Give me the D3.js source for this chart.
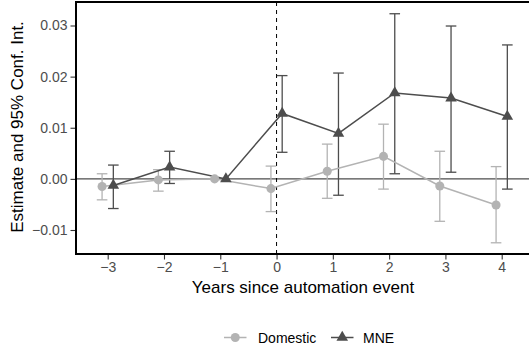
<!DOCTYPE html>
<html>
<head>
<meta charset="utf-8">
<script src="https://cdn.jsdelivr.net/npm/d3@7"></script>
<style>
  body { margin: 0; background: #fff; }
  svg { display: block; font-family: "Liberation Sans", Arial, sans-serif; }
</style>
</head>
<body>
<div id="chart"></div>
<script>
var years = [-3, -2, -1, 0, 1, 2, 3, 4];
var groups = ["Domestic", "MNE"];

var domEst = [-0.0015, -0.0002, 0, -0.0019, 0.0015, 0.0044, -0.0014, -0.0051];
var domLo  = [-0.0041, -0.0024, 0, -0.0064, -0.0038, -0.0020, -0.0083, -0.0125];
var domHi  = [0.0010, 0.0018, 0, 0.0025, 0.0068, 0.0107, 0.0054, 0.0024];

var mneEst = [-0.0013, 0.0023, 0, 0.0128, 0.0089, 0.0168, 0.0158, 0.0122];
var mneLo  = [-0.0058, -0.0009, 0, 0.0052, -0.0032, 0.0010, 0.0013, -0.0020];
var mneHi  = [0.0027, 0.0054, 0, 0.0202, 0.0207, 0.0323, 0.0299, 0.0262];

var yTicks = [-0.01, 0, 0.01, 0.02, 0.03];
var xTicks = [-3, -2, -1, 0, 1, 2, 3, 4];

var opts = {
  width: 529,
  height: 351,
  left: 76,
  top: 2,
  bottom: 254,
  right: 560
};

var colors = { Domestic: "#b3b3b3", MNE: "#4d4d4d" };
var dodge = { Domestic: -0.1, MNE: 0.1 };

function series(name, est, lo, hi) {
  return years.map(function(yr, i) {
    return { group: name, year: yr, est: est[i], lo: lo[i], hi: hi[i], ci: yr !== -1 };
  });
}

var data = {
  Domestic: series("Domestic", domEst, domLo, domHi),
  MNE: series("MNE", mneEst, mneLo, mneHi)
};

var x = d3.scaleLinear().domain([-3, 4]).range([107.7, 501.7]);
var y = d3.scaleLinear().domain([-0.01, 0.03]).range([230, 25.5]);

var svg = d3.select("#chart").append("svg")
    .attr("width", opts.width)
    .attr("height", opts.height);

// reference lines
svg.append("line")
    .attr("x1", opts.left).attr("x2", opts.width)
    .attr("y1", y(0)).attr("y2", y(0))
    .attr("stroke", "#4d4d4d").attr("stroke-width", 1.1);

svg.append("line")
    .attr("x1", x(0)).attr("x2", x(0))
    .attr("y1", opts.top).attr("y2", opts.bottom)
    .attr("stroke", "#000").attr("stroke-width", 1)
    .attr("stroke-dasharray", "4,4");

var capHalf = 5.3;

groups.forEach(function(g) {
  var gg = svg.append("g").attr("class", "errbars");
  var rows = data[g].filter(function(d) { return d.ci; });
  var col = colors[g];
  rows.forEach(function(d) {
    var cx = x(d.year + dodge[g]);
    gg.append("line").attr("x1", cx).attr("x2", cx)
      .attr("y1", y(d.lo)).attr("y2", y(d.hi))
      .attr("stroke", col).attr("stroke-width", 1.3);
    gg.append("line").attr("x1", cx - capHalf).attr("x2", cx + capHalf)
      .attr("y1", y(d.lo)).attr("y2", y(d.lo))
      .attr("stroke", col).attr("stroke-width", 1.3);
    gg.append("line").attr("x1", cx - capHalf).attr("x2", cx + capHalf)
      .attr("y1", y(d.hi)).attr("y2", y(d.hi))
      .attr("stroke", col).attr("stroke-width", 1.3);
  });
});

var line = d3.line()
    .x(function(d) { return x(d.year + dodge[d.group]); })
    .y(function(d) { return y(d.est); });

groups.forEach(function(g) {
  svg.append("path")
    .datum(data[g])
    .attr("d", line)
    .attr("fill", "none")
    .attr("stroke", colors[g])
    .attr("stroke-width", 1.5);
});

var shapes = {
  Domestic: d3.symbol().type(d3.symbolCircle).size(64),
  MNE: d3.symbol().type(d3.symbolTriangle).size(58)
};

groups.forEach(function(g) {
  svg.selectAll(".pt-" + g)
    .data(data[g])
    .enter().append("path")
    .attr("class", "pt-" + g)
    .attr("d", shapes[g])
    .attr("transform", function(d) {
      return "translate(" + x(d.year + dodge[g]) + "," + y(d.est) + ")";
    })
    .attr("fill", colors[g]);
});

// panel border
svg.append("rect")
    .attr("x", opts.left).attr("y", opts.top)
    .attr("width", opts.right - opts.left)
    .attr("height", opts.bottom - opts.top)
    .attr("fill", "none")
    .attr("stroke", "#000")
    .attr("stroke-width", 2);

// axes
var yAxis = d3.axisLeft(y).tickValues(yTicks).tickSize(4.5).tickPadding(3)
    .tickFormat(function(d) { return d3.format(".2f")(d).replace("-", "\u2212"); });
var xAxis = d3.axisBottom(x).tickValues(xTicks).tickSize(4.5).tickPadding(3)
    .tickFormat(function(d) { return String(d).replace("-", "\u2212"); });

var ya = svg.append("g").attr("transform", "translate(" + (opts.left - 1) + ",0)").call(yAxis);
var xa = svg.append("g").attr("transform", "translate(0," + (opts.bottom + 1) + ")").call(xAxis);

[ya, xa].forEach(function(a) {
  a.select(".domain").remove();
  a.selectAll(".tick line").attr("stroke", "#333").attr("stroke-width", 1.1);
  a.selectAll(".tick text")
    .attr("fill", "#4d4d4d")
    .style("font-size", "14px")
    .style("font-family", "Liberation Sans, Arial, sans-serif");
});

svg.append("text")
    .attr("x", 303)
    .attr("y", 292.5)
    .attr("text-anchor", "middle")
    .style("font-size", "17px")
    .text("Years since automation event");

svg.append("text")
    .attr("transform", "translate(22.5,127) rotate(-90)")
    .attr("text-anchor", "middle")
    .style("font-size", "17px")
    .text("Estimate and 95% Conf. Int.");

// legend
var legendItems = [
  { name: "Domestic", keyX: 224, textX: 258 },
  { name: "MNE", keyX: 331, textX: 363 }
];
var legY = 337.5;
legendItems.forEach(function(it) {
  svg.append("line")
    .attr("x1", it.keyX).attr("x2", it.keyX + 22.5)
    .attr("y1", legY).attr("y2", legY)
    .attr("stroke", colors[it.name]).attr("stroke-width", 1.5);
  svg.append("path")
    .attr("d", shapes[it.name])
    .attr("transform", "translate(" + (it.keyX + 11.25) + "," + legY + ")")
    .attr("fill", colors[it.name]);
  svg.append("text")
    .attr("x", it.textX)
    .attr("y", legY + 5)
    .style("font-size", "14px")
    .text(it.name);
});
</script>
</body>
</html>
